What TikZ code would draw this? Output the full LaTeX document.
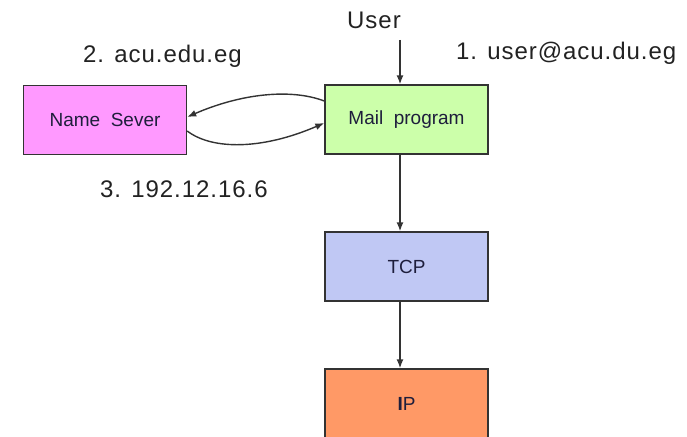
\documentclass[tikz,border=0pt]{standalone}
\usepackage{fontspec}
\setmainfont{Liberation Sans}
\newfontfamily\lblfont[LetterSpace=4]{Liberation Sans}
\usetikzlibrary{arrows.meta}
\definecolor{nsfill}{HTML}{FF99FF}
\definecolor{mailfill}{HTML}{CCFFAA}
\definecolor{tcpfill}{HTML}{C0C8F4}
\definecolor{ipfill}{HTML}{FF9966}
\definecolor{edge}{HTML}{333333}
\definecolor{ink}{HTML}{222222}
\definecolor{boxink}{HTML}{1E1E3C}
\tikzset{
  layerbox/.style={draw=edge, line width=1.4pt, minimum width=163pt, minimum height=69pt,
    inner sep=0pt, text=boxink, font=\fontsize{19}{19}\selectfont},
  lbl/.style={text=ink, font=\lblfont\fontsize{24}{24}\selectfont, inner sep=0pt},
  arr/.style={draw=edge, line width=1.4pt, -{Latex[length=9pt,width=7pt]}}
}
\begin{document}
\begin{tikzpicture}[x=1pt,y=-1pt]
\useasboundingbox (0,0) rectangle (687,436);

% boxes
\node[layerbox, fill=nsfill]   (ns)   at (105,120)   {Name\ \ Sever};
\node[layerbox, fill=mailfill] (mail) at (406.5,119.5) {Mail\ \ program};
\node[layerbox, fill=tcpfill]  (tcp)  at (406.5,266.5) {TCP};
\node[layerbox, fill=ipfill]   (ip)   at (406.5,403.5) {\textbf{I}P};

% labels
\node[lbl] (user) at (374,20) {User};
\node[lbl, anchor=west] (l1) at (456,53) {1. user@acu.du.eg};
\node[lbl, anchor=west] (l2) at (83,56) {2. acu.edu.eg};
\node[lbl, anchor=west] (l3) at (100,189) {3. 192.12.16.6};

% vertical flow
\coordinate (ustart) at (400,40);
\draw[arr] (ustart) -- (ustart |- mail.north);
\draw[arr] ([xshift=-6.5pt]mail.south) -- ([xshift=-6.5pt]tcp.north);
\draw[arr] ([xshift=-6.5pt]tcp.south) -- ([xshift=-6.5pt]ip.north);

% name lookup and reply
\draw[arr] ([yshift=18.5pt]mail.west) .. controls (290,88) and (240,94) .. ([yshift=3pt]ns.east);
\draw[arr] ([yshift=-11pt]ns.east) .. controls (212,150) and (262,150) .. ([yshift=-3.5pt]mail.west);
\end{tikzpicture}
\end{document}
